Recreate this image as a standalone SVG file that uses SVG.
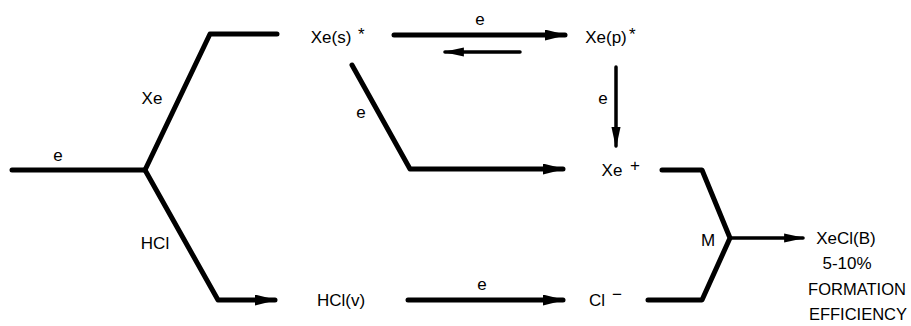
<svg xmlns="http://www.w3.org/2000/svg" width="911" height="326" viewBox="0 0 911 326">
<style>
text{font-family:"Liberation Sans",Arial,sans-serif;font-size:17px;fill:#000}
.c{text-anchor:middle}
.w{font-size:16.5px}
.l{fill:none;stroke:#000;stroke-width:5;stroke-linejoin:round;stroke-linecap:round}
.t{fill:none;stroke:#000;stroke-width:3.5;stroke-linecap:round}
</style>
<defs>
<marker id="ah" viewBox="0 0 10 10" refX="9" refY="5" markerWidth="4.5" markerHeight="2.2" markerUnits="strokeWidth" orient="auto" preserveAspectRatio="none"><path d="M0,0L10,5L0,10z" fill="#000"/></marker>
<marker id="ah2" viewBox="0 0 10 10" refX="9" refY="5" markerWidth="6" markerHeight="2.6" markerUnits="strokeWidth" orient="auto" preserveAspectRatio="none"><path d="M0,0L10,5L0,10z" fill="#000"/></marker>
</defs>
<g id="connectors">
<path class="l" d="M12,170H145"/>
<path class="l" d="M145,170L210,34H277"/>
<path class="l" d="M145,170L218,300H275" marker-end="url(#ah)"/>
<path class="l" d="M394,35H565" marker-end="url(#ah)"/>
<path class="t" d="M520,52H445" marker-end="url(#ah2)"/>
<path class="l" d="M352,65L410,169H563" marker-end="url(#ah)"/>
<path class="t" d="M616,67V146" marker-end="url(#ah2)"/>
<path class="l" d="M408,300H563" marker-end="url(#ah)"/>
<path class="l" d="M662,170H702L730,238L702,300H648"/>
<path class="t" d="M730,238H803" marker-end="url(#ah2)"/>
</g>
<g id="labels">
<text class="c" x="58" y="161">e</text>
<text class="c" x="152" y="104">Xe</text>
<text class="c" x="155" y="249">HCl</text>
<text class="c" x="480" y="25">e</text>
<text class="c" x="361" y="118">e</text>
<text class="c" x="603" y="104">e</text>
<text class="c" x="482" y="290">e</text>
<text class="c" x="708" y="246">M</text>
</g>
<g id="node-xes"><text class="c" x="331" y="43">Xe(s)</text><text x="358" y="40" font-size="13">*</text></g>
<g id="node-xep"><text class="c" x="606" y="43">Xe(p)</text><text x="629" y="40" font-size="13">*</text></g>
<g id="node-xeplus"><text class="c" x="612" y="176">Xe</text><text x="630" y="171">+</text></g>
<g id="node-hclv"><text class="c" x="341" y="306">HCl(v)</text></g>
<g id="node-clminus"><text class="c" x="597" y="306">Cl</text><text x="612" y="300">−</text></g>
<g id="node-xecl">
<text class="c" x="846" y="244">XeCl(B)</text>
<text class="c" x="847" y="269">5-10%</text>
<text class="c w" x="857" y="295">FORMATION</text>
<text class="c w" x="858" y="320">EFFICIENCY</text>
</g>
</svg>
